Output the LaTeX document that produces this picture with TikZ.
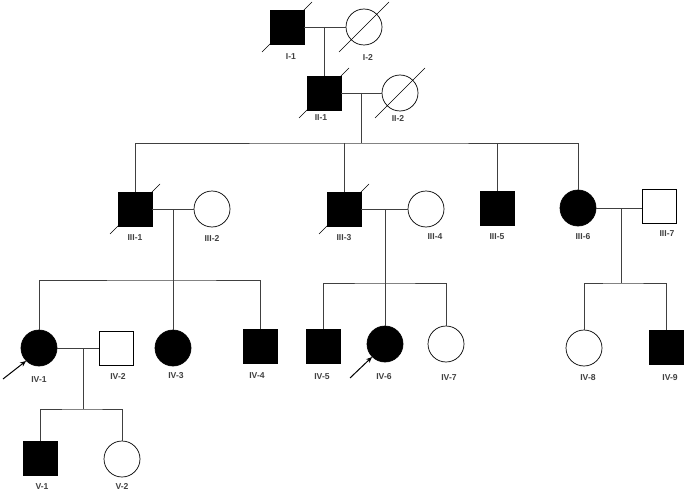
\documentclass[tikz,border=0pt]{standalone}
\usepackage{fontspec}
\setmainfont{Liberation Sans}
\usetikzlibrary{arrows.meta}
\begin{document}
\begin{tikzpicture}[x=1pt,y=-1pt,
  ln/.style={draw=black!75,line width=0.7pt},
  male/.style={rectangle,draw=black,line width=0.7pt,minimum size=34pt,inner sep=0pt},
  female/.style={circle,draw=black,line width=0.7pt,minimum size=36pt,inner sep=0pt},
  aff/.style={fill=black},
  unaff/.style={fill=white},
  lab/.style={font=\bfseries\fontsize{8.6}{10}\selectfont,text=black!75,inner sep=0pt},
  dead/.style={draw=black,line width=0.6pt},
  prob/.style={draw=black,line width=1pt,-{Stealth[length=6pt,width=5pt]}}]
\useasboundingbox (0,0) rectangle (685,492);
% ---------- nodes ----------
\node[male,aff] (I1) at (287,27) {};
\node[female,unaff] (I2) at (364,27) {};
\node[male,aff] (II1) at (324,93) {};
\node[female,unaff] (II2) at (400,93) {};
\node[male,aff] (III1) at (135,209) {};
\node[female,unaff] (III2) at (212,209) {};
\node[male,aff] (III3) at (344,209) {};
\node[female,unaff] (III4) at (426,209) {};
\node[male,aff] (III5) at (497,208) {};
\node[female,aff] (III6) at (578,208) {};
\node[male,unaff] (III7) at (659,206) {};
\node[female,aff] (IV1) at (39,348) {};
\node[male,unaff] (IV2) at (116,348) {};
\node[female,aff] (IV3) at (173,348) {};
\node[male,aff] (IV4) at (260,346) {};
\node[male,aff] (IV5) at (323,346) {};
\node[female,aff] (IV6) at (385,344) {};
\node[female,unaff] (IV7) at (446,344) {};
\node[female,unaff] (IV8) at (584,348) {};
\node[male,aff] (IV9) at (666,347) {};
\node[male,aff] (V1) at (40,458) {};
\node[female,unaff] (V2) at (122,459) {};
% ---------- labels ----------
\node[lab] (lI1) at (291,57) {I-1};
\node[lab] (lI2) at (368,57) {I-2};
\node[lab] (lII1) at (321,118) {II-1};
\node[lab] (lII2) at (398,118) {II-2};
\node[lab] (lIII1) at (135,238) {III-1};
\node[lab] (lIII2) at (212,238) {III-2};
\node[lab] (lIII3) at (344,238) {III-3};
\node[lab] (lIII4) at (435,237) {III-4};
\node[lab] (lIII5) at (497,237) {III-5};
\node[lab] (lIII6) at (583,237) {III-6};
\node[lab] (lIII7) at (667,234) {III-7};
\node[lab] (lIV1) at (39,380) {IV-1};
\node[lab] (lIV2) at (118,376) {IV-2};
\node[lab] (lIV3) at (176,376) {IV-3};
\node[lab] (lIV4) at (257,376) {IV-4};
\node[lab] (lIV5) at (322,377) {IV-5};
\node[lab] (lIV6) at (384,377) {IV-6};
\node[lab] (lIV7) at (449,378) {IV-7};
\node[lab] (lIV8) at (588,378) {IV-8};
\node[lab] (lIV9) at (670,378) {IV-9};
\node[lab] (lV1) at (42,487) {V-1};
\node[lab] (lV2) at (122,486) {V-2};
% ---------- deceased slashes ----------
\foreach \n in {I1,I2,II1,II2,III1,III3}{
  \draw[dead] ([shift={(-25pt,-25pt)}]\n.center) -- ([shift={(25pt,25pt)}]\n.center);
}
% ---------- coordinates ----------
\coordinate (m1) at (324,27);
\coordinate (m2) at (361,93);
\coordinate (s2) at (361,143);
\coordinate (m3) at (173,209);
\coordinate (s3) at (173,280);
\coordinate (m4) at (385,209);
\coordinate (s4) at (385,283);
\coordinate (m5) at (621,208);
\coordinate (s5) at (621,283);
\coordinate (m6) at (83,348);
\coordinate (s6) at (83,409);
\coordinate (a1) at (3,379);
\coordinate (a2) at (350,378);
% ---------- connectors ----------
% generation I
\draw[ln] (I1.east) -- (I2.west);
\draw[ln] (m1) -- (II1.north);
% generation II
\draw[ln] (II1.east) -- (II2.west);
\draw[ln] (m2) -- (s2);
\draw[ln] (III1.north) |- (s2) -| (III6.north);
\draw[ln] (III3.north) -- (III3.north |- s2);
\draw[ln] (III5.north) -- (III5.north |- s2);
% III-1 x III-2
\draw[ln] (III1.east) -- (III2.west);
\draw[ln] (m3) -- (IV3.north);
\draw[ln] (IV1.north) |- (s3) -| (IV4.north);
% III-3 x III-4
\draw[ln] (III3.east) -- (III4.west);
\draw[ln] (m4) -- (IV6.north);
\draw[ln] (IV5.north) |- (s4) -| (IV7.north);
% III-6 x III-7
\draw[ln] (III6.east) -- (III6.east -| III7.west);
\draw[ln] (m5) -- (s5);
\draw[ln] (IV8.north) |- (s5) -| (IV9.north);
% IV-1 x IV-2
\draw[ln] (IV1.east) -- (IV2.west);
\draw[ln] (m6) -- (s6);
\draw[ln] (V1.north) |- (s6) -| (V2.north);
% probands
\draw[prob] (a1) -- (IV1.225);
\draw[prob] (a2) -- (IV6.225);
\end{tikzpicture}
\end{document}
